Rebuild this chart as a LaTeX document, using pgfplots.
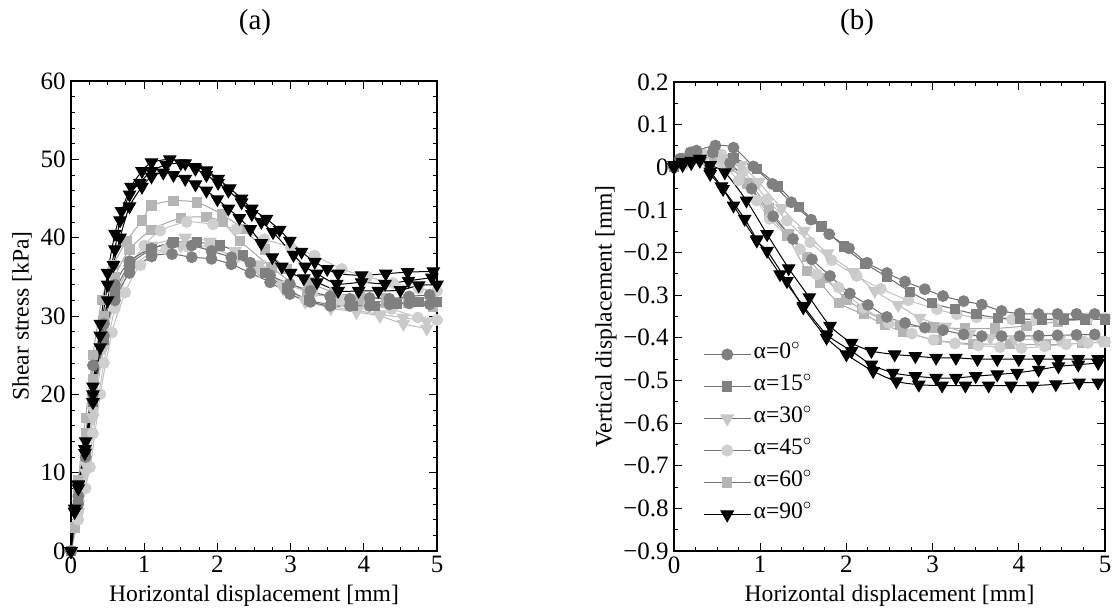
\documentclass[border=0pt]{standalone}
\usepackage{fontspec}
\setmainfont{Liberation Serif}
\usepackage{pgfplots}
\pgfplotsset{compat=1.18}
\definecolor{m0}{gray}{0.50}\definecolor{l0}{gray}{0.42}
\definecolor{m15}{gray}{0.50}\definecolor{l15}{gray}{0.42}
\definecolor{m30}{gray}{0.79}\definecolor{l30}{gray}{0.74}
\definecolor{m45}{gray}{0.81}\definecolor{l45}{gray}{0.76}
\definecolor{m60}{gray}{0.71}\definecolor{l60}{gray}{0.66}
\definecolor{lg}{gray}{0.45}
\newcommand{\labfont}{\fontsize{11.8}{13}\selectfont}
\newcommand{\tickfont}{\fontsize{12.5}{13}\selectfont}
\pgfplotsset{
  s0/.style={smooth, tension=0.45, line width=0.5pt, color=l0, mark=*, mark size=2.7pt, mark options={fill=m0, draw=m0}},
  s15/.style={smooth, tension=0.45, line width=0.5pt, color=l15, mark=square*, mark size=2.3pt, mark options={fill=m15, draw=m15}},
  s30/.style={smooth, tension=0.45, line width=0.5pt, color=l30, mark=triangle*, mark size=3.5pt, mark options={fill=m30, draw=m30, rotate=180}},
  s45/.style={smooth, tension=0.45, line width=0.5pt, color=l45, mark=*, mark size=2.7pt, mark options={fill=m45, draw=m45}},
  s60/.style={smooth, tension=0.45, line width=0.5pt, color=l60, mark=square*, mark size=2.3pt, mark options={fill=m60, draw=m60}},
  s90/.style={smooth, tension=0.45, line width=0.5pt, color=black, mark=triangle*, mark size=3.5pt, mark options={fill=black, draw=black, rotate=180}},
  myaxis/.style={scale only axis, axis line style={line width=0.6pt}, every tick/.style={black, line width=0.5pt},
    major tick length=4pt, minor tick length=2.2pt, tick align=inside,
    xmin=0, xmax=5, xtick={0,1,2,3,4,5}, minor x tick num=3,
    /pgf/number format/assume math mode=true,
    xticklabel style={font=\tickfont, inner sep=2.5pt}, yticklabel style={font=\tickfont, inner sep=2.5pt},
  },
}
\begin{document}
\begin{tikzpicture}[font=\tickfont]
\path[use as bounding box] (0,0) rectangle (559.5pt,-306pt);
\node[font=\fontsize{14.5}{16}\selectfont] at (127.5pt,-11.5pt) {(a)};
\node[font=\fontsize{14.5}{16}\selectfont] at (428.5pt,-11.5pt) {(b)};
% ---------------- (a)
\begin{axis}[myaxis, at={(35.5pt,-275.5pt)}, anchor=south west, width=183pt, height=235pt,
  ymin=0, ymax=60, ytick={0,10,20,30,40,50,60}, minor y tick num=4,
  xlabel={Horizontal displacement [mm]}, ylabel={Shear stress [kPa]},
  xlabel style={at={(axis description cs:0.5,-0.096)}, anchor=center, font=\labfont},
  ylabel style={at={(axis description cs:-0.134,0.5)}, anchor=center, font=\labfont}]
\addplot[s60, forget plot] coordinates {(0,0)(0.05,3)(0.1,9)(0.2,17)(0.3,25)(0.42,32)(0.58,36.5)(0.76,39.6)(0.97,42.2)(1.1,44.1)(1.4,44.7)(1.72,44.5)(2.06,43.0)(2.35,41.1)(2.65,38.5)(2.95,36.0)(3.25,34.3)(3.6,33.0)(3.95,32.5)(4.3,32.3)(4.6,32.2)(4.95,32.3)};
\addplot[s60, forget plot] coordinates {(0,0)(0.1,8)(0.2,15)(0.3,22)(0.45,30)(0.6,35)(0.8,38.5)(1.1,41)(1.5,42.5)(1.85,42.6)(2.07,42.0)(2.31,39.6)(2.74,36.2)(3.22,33.0)(3.6,32.5)(3.95,32.0)(4.3,31.8)(4.6,31.7)(4.95,31.1)};
\addplot[s45, forget plot] coordinates {(0,0)(0.1,4)(0.2,8)(0.3,15)(0.45,24)(0.6,31)(0.8,36)(1.0,39)(1.22,40.9)(1.58,42.0)(1.94,41.7)(2.26,41.1)(2.64,39.8)(3.0,38.8)(3.33,37.7)(3.7,36.0)(4.05,35.0)(4.4,34.2)(4.75,33.5)(5.0,33.2)};
\addplot[s45, forget plot] coordinates {(0,0)(0.1,5)(0.26,10.7)(0.4,20)(0.56,27.9)(0.74,33)(0.95,36.5)(1.3,38.5)(1.6,38.8)(1.94,38.5)(2.26,37.5)(2.6,35.8)(2.95,34.0)(3.3,33.0)(3.7,32.0)(4.06,31.3)(4.38,30.9)(4.74,29.8)(5.0,29.5)};
\addplot[s30, forget plot] coordinates {(0,0)(0.1,5)(0.2,10)(0.3,17)(0.45,26)(0.6,32)(0.8,36.5)(1.1,39.0)(1.56,40.0)(1.9,39.5)(2.24,38.3)(2.58,36.6)(2.9,34.0)(3.2,32.0)(3.55,31.0)(3.9,30.5)(4.22,30.0)(4.54,29.0)(4.86,28.4)};
\addplot[s30, forget plot] coordinates {(0,0)(0.1,6)(0.2,11)(0.3,18)(0.45,27)(0.6,32.5)(0.8,36)(1.1,38)(1.5,39)(1.9,38.8)(2.24,37.5)(2.58,35.8)(2.9,33.5)(3.2,31.8)(3.55,31.2)(3.9,30.7)(4.22,30.2)(4.54,29.8)(4.86,29.3)};
\addplot[s15, forget plot] coordinates {(0,0)(0.1,6)(0.2,12.5)(0.3,19)(0.45,27)(0.6,33)(0.8,36.5)(1.1,38.5)(1.4,39.4)(1.72,39.4)(2.04,39.0)(2.35,37.8)(2.65,35.5)(2.95,33.5)(3.25,32.0)(3.55,31.5)(3.85,31.3)(4.15,31.3)(4.45,31.5)(4.75,31.8)(5.0,31.8)};
\addplot[s0, forget plot] coordinates {(0,0)(0.1,6)(0.2,12)(0.3,20)(0.45,27.5)(0.6,32)(0.8,35.5)(1.1,37.6)(1.38,37.9)(1.65,37.5)(1.92,37.3)(2.19,36.6)(2.45,35.5)(2.72,34.3)(2.99,32.8)(3.27,31.8)(3.54,31.3)(3.81,31.3)(4.08,31.3)(4.35,31.5)(4.62,31.6)(4.9,31.5)};
\addplot[s0, forget plot] coordinates {(0,0)(0.1,7)(0.2,13)(0.3,23.7)(0.45,29)(0.6,34)(0.8,37)(1.1,38.6)(1.38,39.3)(1.65,39.0)(1.92,38.3)(2.19,37.5)(2.45,36.8)(2.72,35.2)(2.99,34.1)(3.27,33.2)(3.54,32.5)(3.81,32.2)(4.08,32.3)(4.35,32.2)(4.62,32.5)(4.9,32.7)};
\addplot[s90, forget plot] coordinates {(0,0)(0.05,5)(0.1,8.5)(0.2,14)(0.3,21)(0.4,29)(0.5,35.5)(0.6,40.5)(0.69,43.4)(0.82,46.5)(0.97,48.5)(1.1,49.6)(1.35,50.0)(1.56,49.5)(1.69,49.0)(1.85,48.6)(2.01,47.5)(2.17,46.3)(2.33,45.0)(2.47,43.7)(2.67,42.4)(2.85,41.0)(2.99,39.6)(3.15,38.2)(3.33,36.9)(3.5,36.0)(3.65,35.4)(3.97,35.2)(4.3,35.4)(4.6,35.6)(4.95,35.7)};
\addplot[s90, forget plot] coordinates {(0,0)(0.05,5.4)(0.1,8.4)(0.19,13.0)(0.3,20)(0.4,27.5)(0.5,34)(0.6,38.5)(0.67,42.2)(0.8,45.5)(0.94,47.0)(1.1,48.5)(1.3,49.3)(1.5,49.5)(1.7,48.8)(1.85,48.0)(2.01,47.0)(2.15,46.0)(2.33,44.5)(2.47,43.0)(2.6,42.0)(2.76,40.7)(3.04,37.8)(3.2,36.3)(3.36,35.4)(3.63,34.1)(3.97,34.3)(4.29,34.1)(4.61,34.5)(4.93,34.9)};
\addplot[s90, forget plot] coordinates {(0,0)(0.05,5)(0.1,8)(0.19,12.5)(0.3,19)(0.4,26)(0.5,32)(0.58,36.5)(0.67,40.0)(0.8,44)(0.97,46.5)(1.1,47.8)(1.26,48.3)(1.4,48.0)(1.56,47.5)(1.7,46.8)(1.85,46.0)(2.0,44.9)(2.15,43.7)(2.3,42.5)(2.45,41.1)(2.6,39.3)(2.75,37.5)(2.88,36.3)(3.0,35.5)(3.18,34.8)(3.36,34.3)(3.65,33.2)(3.93,33.2)(4.2,33.2)(4.5,33.3)(4.75,33.9)(5.0,34.0)};
\end{axis}
% ---------------- (b)
\begin{axis}[myaxis, at={(337pt,-275.5pt)}, anchor=south west, width=215.5pt, height=234.5pt,
  ymin=-0.9, ymax=0.2, ytick={-0.9,-0.8,-0.7,-0.6,-0.5,-0.4,-0.3,-0.2,-0.1,0,0.1,0.2}, minor y tick num=1,
  yticklabel={\pgfmathparse{abs(\tick)}\let\av\pgfmathresult\pgfmathparse{\tick<-0.001}\ifdim\pgfmathresult pt>0.5pt −\fi\pgfmathprintnumber[assume math mode=true,fixed,precision=1]{\av}},
  xlabel={Horizontal displacement [mm]}, ylabel={Vertical displacement [mm]},
  xlabel style={at={(axis description cs:0.5,-0.096)}, anchor=center, font=\labfont},
  ylabel style={at={(axis description cs:-0.158,0.5)}, anchor=center, font=\labfont},
  legend style={at={(axis description cs:0.067,0.454)}, anchor=north west, draw=none, fill=none,
    inner sep=0pt, row sep=0pt, font=\fontsize{11.8}{12}\selectfont,
    nodes={inner sep=1pt, text height=9pt, text depth=5pt}},
  legend cell align=left,
  legend image code/.code={\draw[mark repeat=2,mark phase=2,#1] plot coordinates {(0cm,0cm) (0.41cm,0cm) (0.83cm,0cm)};}]
\addplot[s60, forget plot] coordinates {(0,0)(0.15,0.015)(0.3,0.03)(0.46,0.03)(0.65,0.01)(0.88,-0.037)(1.1,-0.095)(1.33,-0.157)(1.54,-0.21)(1.75,-0.259)(2.0,-0.31)(2.18,-0.333)(2.4,-0.355)(2.62,-0.37)(3.01,-0.376)(3.38,-0.378)(3.72,-0.378)(4.09,-0.372)(4.45,-0.362)(4.79,-0.357)(5.0,-0.356)};
\addplot[s60, forget plot] coordinates {(0,0)(0.15,0.012)(0.3,0.02)(0.46,0.02)(0.65,0.0)(0.85,-0.04)(1.1,-0.11)(1.31,-0.16)(1.54,-0.243)(1.69,-0.27)(1.91,-0.318)(2.2,-0.345)(2.45,-0.37)(2.66,-0.385)(3.05,-0.406)(3.47,-0.414)(3.9,-0.415)(4.32,-0.416)(4.73,-0.413)(5.0,-0.41)};
\addplot[s45, forget plot] coordinates {(0,0)(0.15,0.015)(0.35,0.03)(0.55,0.03)(0.8,-0.01)(1.08,-0.075)(1.31,-0.125)(1.58,-0.176)(1.83,-0.218)(2.12,-0.255)(2.4,-0.285)(2.72,-0.312)(3.05,-0.333)(3.28,-0.345)(3.51,-0.352)(3.92,-0.357)(4.2,-0.356)(4.5,-0.355)(4.8,-0.354)(5.0,-0.353)};
\addplot[s45, forget plot] coordinates {(0,0)(0.15,0.015)(0.35,0.028)(0.55,0.01)(0.75,-0.031)(0.96,-0.078)(1.11,-0.121)(1.46,-0.192)(1.66,-0.251)(1.91,-0.282)(2.2,-0.33)(2.49,-0.365)(2.76,-0.39)(3.01,-0.405)(3.26,-0.413)(3.53,-0.418)(3.78,-0.422)(4.03,-0.424)(4.3,-0.42)(4.55,-0.415)(4.8,-0.412)(5.0,-0.41)};
\addplot[s30, forget plot] coordinates {(0,0)(0.15,0.012)(0.35,0.022)(0.55,0.022)(0.78,0.005)(0.98,-0.035)(1.25,-0.096)(1.51,-0.149)(1.78,-0.202)(2.08,-0.246)(2.33,-0.29)(2.6,-0.323)(2.85,-0.353)(3.15,-0.374)(3.43,-0.39)(3.67,-0.40)(3.95,-0.403)(4.21,-0.404)(4.47,-0.404)(4.71,-0.404)(4.95,-0.405)};
\addplot[s15, forget plot] coordinates {(0,0)(0.1,0.015)(0.25,0.03)(0.45,0.035)(0.69,0.022)(0.96,-0.004)(1.21,-0.045)(1.45,-0.094)(1.71,-0.139)(1.97,-0.186)(2.22,-0.226)(2.47,-0.257)(2.74,-0.292)(2.99,-0.318)(3.26,-0.333)(3.51,-0.345)(3.76,-0.353)(4.01,-0.356)(4.27,-0.357)(4.52,-0.357)(4.77,-0.357)(5.0,-0.357)};
\addplot[s0, forget plot] coordinates {(0,0)(0.07,0.02)(0.19,0.035)(0.26,0.039)(0.48,0.051)(0.69,0.046)(0.92,0.002)(1.14,-0.039)(1.36,-0.082)(1.59,-0.123)(1.8,-0.157)(2.03,-0.19)(2.24,-0.224)(2.47,-0.248)(2.68,-0.268)(2.91,-0.286)(3.12,-0.302)(3.36,-0.314)(3.57,-0.322)(3.8,-0.337)(4.01,-0.343)(4.23,-0.344)(4.45,-0.344)(4.67,-0.344)(4.88,-0.344)};
\addplot[s0, forget plot] coordinates {(0,0)(0.1,0.02)(0.26,0.035)(0.45,0.035)(0.65,0.01)(0.9,-0.05)(1.15,-0.115)(1.38,-0.168)(1.6,-0.216)(1.81,-0.255)(2.04,-0.296)(2.25,-0.323)(2.47,-0.351)(2.68,-0.365)(2.91,-0.376)(3.12,-0.382)(3.36,-0.392)(3.57,-0.396)(3.8,-0.396)(4.01,-0.396)(4.23,-0.395)(4.45,-0.394)(4.67,-0.393)(4.88,-0.392)};
\addplot[s90, forget plot] coordinates {(0,0.005)(0.1,0.012)(0.2,0.015)(0.3,0.02)(0.42,0.005)(0.59,-0.012)(0.84,-0.078)(1.08,-0.157)(1.33,-0.237)(1.57,-0.305)(1.81,-0.372)(2.06,-0.412)(2.29,-0.431)(2.56,-0.439)(2.8,-0.443)(3.04,-0.447)(3.27,-0.447)(3.52,-0.45)(3.75,-0.45)(4.0,-0.45)(4.23,-0.45)(4.46,-0.45)(4.69,-0.45)(4.92,-0.45)};
\addplot[s90, forget plot] coordinates {(0,0)(0.1,0.008)(0.2,0.012)(0.3,0.02)(0.42,-0.016)(0.57,-0.051)(0.82,-0.121)(0.96,-0.169)(1.23,-0.251)(1.5,-0.325)(1.77,-0.392)(2.06,-0.431)(2.29,-0.463)(2.54,-0.482)(2.8,-0.49)(3.04,-0.494)(3.27,-0.494)(3.5,-0.49)(3.75,-0.486)(3.98,-0.482)(4.23,-0.475)(4.46,-0.467)(4.69,-0.463)(4.92,-0.459)};
\addplot[s90, forget plot] coordinates {(0,0)(0.1,0.005)(0.2,0.01)(0.3,0.015)(0.42,-0.01)(0.55,-0.045)(0.69,-0.09)(0.96,-0.172)(1.08,-0.196)(1.31,-0.267)(1.5,-0.329)(1.77,-0.40)(2.0,-0.439)(2.31,-0.478)(2.58,-0.502)(2.84,-0.51)(3.11,-0.512)(3.38,-0.512)(3.65,-0.512)(3.91,-0.512)(4.16,-0.512)(4.43,-0.509)(4.7,-0.505)(4.92,-0.505)};
\addlegendimage{lg, line width=0.6pt, mark=*, mark size=2.7pt, mark options={fill=m0, draw=m0}}
\addlegendentry{α=0$^\circ$}
\addlegendimage{lg, line width=0.6pt, mark=square*, mark size=2.3pt, mark options={fill=m15, draw=m15}}
\addlegendentry{α=15$^\circ$}
\addlegendimage{lg, line width=0.6pt, mark=triangle*, mark size=3.5pt, mark options={fill=m30, draw=m30, rotate=180}}
\addlegendentry{α=30$^\circ$}
\addlegendimage{lg, line width=0.6pt, mark=*, mark size=2.7pt, mark options={fill=m45, draw=m45}}
\addlegendentry{α=45$^\circ$}
\addlegendimage{lg, line width=0.6pt, mark=square*, mark size=2.3pt, mark options={fill=m60, draw=m60}}
\addlegendentry{α=60$^\circ$}
\addlegendimage{black, line width=0.6pt, mark=triangle*, mark size=3.5pt, mark options={fill=black, draw=black, rotate=180}}
\addlegendentry{α=90$^\circ$}
\end{axis}
\end{tikzpicture}
\end{document}
